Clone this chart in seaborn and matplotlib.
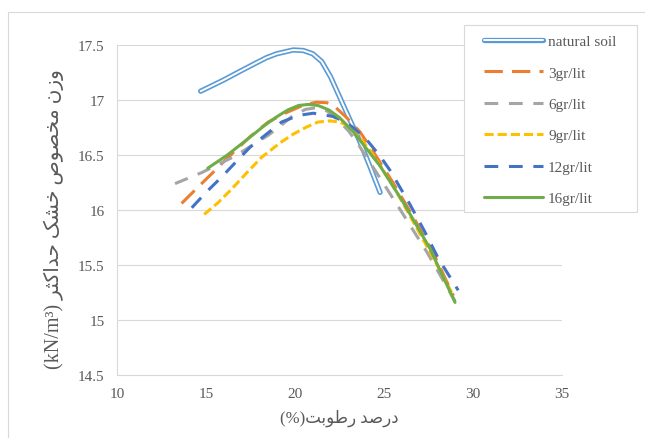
import matplotlib

matplotlib.use("Agg")
import matplotlib.patheffects as pe
import matplotlib.pyplot as plt
import seaborn as sns
from matplotlib.lines import Line2D
from matplotlib.patches import Rectangle

# values (moisture %, dry unit weight kN/m3)
natural_x = [14.7, 15.97, 16.9, 17.85, 18.4, 18.97, 19.5, 19.9, 20.47, 21.0, 21.5, 22.0, 22.5, 23.0, 23.65, 24.2, 24.78]
natural_y = [17.08, 17.18, 17.26, 17.34, 17.385, 17.42, 17.44, 17.455, 17.45, 17.42, 17.35, 17.21, 17.03, 16.85, 16.62, 16.40, 16.16]

gr3_x = [13.63, 14.5, 15.32, 16.25, 17.5, 18.5, 19.44, 20.5, 21.2, 21.8, 22.3, 22.9, 23.65, 24.4, 25.5, 26.6, 27.8, 28.9]
gr3_y = [16.06, 16.2, 16.33, 16.48, 16.67, 16.8, 16.88, 16.955, 16.98, 16.975, 16.93, 16.84, 16.71, 16.53, 16.25, 15.95, 15.6, 15.22]

gr6_x = [13.26, 14.76, 16.63, 18.5, 19.3, 19.9, 20.6, 21.2, 21.8, 22.4, 23.0, 23.46, 24.1, 24.78, 26.0, 27.4, 29.0]
gr6_y = [16.24, 16.34, 16.49, 16.68, 16.78, 16.86, 16.915, 16.93, 16.9, 16.82, 16.72, 16.62, 16.46, 16.29, 15.98, 15.62, 15.17]

gr9_x = [14.9, 15.7, 16.44, 17.3, 18.13, 19.16, 19.9, 20.66, 21.3, 21.97, 22.5, 22.9, 23.28, 23.7, 24.3, 24.96, 25.5, 26.0, 27.1, 28.15, 28.8]
gr9_y = [15.96, 16.07, 16.19, 16.34, 16.48, 16.61, 16.69, 16.755, 16.80, 16.81, 16.80, 16.77, 16.72, 16.65, 16.52, 16.36, 16.22, 16.08, 15.76, 15.45, 15.25]

gr12_x = [14.2, 15.0, 15.88, 16.7, 17.47, 18.4, 19.25, 20.2, 21.03, 22.15, 22.7, 23.18, 23.7, 24.12, 24.78, 25.34, 26.46, 27.3, 28.05, 29.17]
gr12_y = [16.02, 16.16, 16.30, 16.44, 16.57, 16.69, 16.80, 16.86, 16.88, 16.85, 16.81, 16.76, 16.69, 16.62, 16.49, 16.36, 16.05, 15.80, 15.56, 15.27]

gr16_x = [15.1, 16.2, 17.38, 18.3, 19.0, 19.6, 20.2, 20.75, 21.3, 21.9, 22.5, 23.28, 24.78, 26.08, 27.58, 28.99]
gr16_y = [16.38, 16.5, 16.65, 16.77, 16.85, 16.91, 16.95, 16.96, 16.95, 16.91, 16.84, 16.71, 16.40, 16.07, 15.65, 15.16]

x_ticks = [10, 15, 20, 25, 30, 35]
y_ticks = [14.5, 15, 15.5, 16, 16.5, 17, 17.5]
y_tick_labels = ["14.5", "15", "15.5", "16", "16.5", "17", "17.5"]

series_labels = ["natural soil", "3gr/lit", "6gr/lit", "9gr/lit", "12gr/lit", "16gr/lit"]
x_label_fa = "درصد رطوبت"
y_label_fa = "وزن مخصوص خشک حداکثر"

TEXT = "#595959"
GRID = "#d9d9d9"
LW = 2.2

# matplotlib has no arabic shaping, so pick presentation forms by hand
# (isolated, final, initial, medial); None = letter never joins to the next one
FORMS = {
    "ا": ("\ufe8d", "\ufe8e", None, None),
    "ب": ("\ufe8f", "\ufe90", "\ufe91", "\ufe92"),
    "ت": ("\ufe95", "\ufe96", "\ufe97", "\ufe98"),
    "ث": ("\ufe99", "\ufe9a", "\ufe9b", "\ufe9c"),
    "ح": ("\ufea1", "\ufea2", "\ufea3", "\ufea4"),
    "خ": ("\ufea5", "\ufea6", "\ufea7", "\ufea8"),
    "د": ("\ufea9", "\ufeaa", None, None),
    "ر": ("\ufead", "\ufeae", None, None),
    "ز": ("\ufeaf", "\ufeb0", None, None),
    "ش": ("\ufeb5", "\ufeb6", "\ufeb7", "\ufeb8"),
    "ص": ("\ufeb9", "\ufeba", "\ufebb", "\ufebc"),
    "ط": ("\ufec1", "\ufec2", "\ufec3", "\ufec4"),
    "م": ("\ufee1", "\ufee2", "\ufee3", "\ufee4"),
    "ن": ("\ufee5", "\ufee6", "\ufee7", "\ufee8"),
    "و": ("\ufeed", "\ufeee", None, None),
    "ک": ("\ufb8e", "\ufb8f", "\ufb90", "\ufb91"),
}


def rtl(text: str) -> str:
    out = []
    for i, ch in enumerate(text):
        if ch not in FORMS:
            out.append(ch)
            continue
        prev = text[i - 1] if i > 0 else None
        nxt = text[i + 1] if i + 1 < len(text) else None
        iso, fin, ini, med = FORMS[ch]
        joins_prev = prev in FORMS and FORMS[prev][2] is not None
        joins_next = nxt in FORMS and ini is not None
        if joins_prev and joins_next:
            out.append(med)
        elif joins_prev:
            out.append(fin)
        elif joins_next:
            out.append(ini)
        else:
            out.append(iso)
    return "".join(out)[::-1]


sns.set_style("white")
plt.rcParams["font.family"] = ["Liberation Serif", "DejaVu Sans"]

fig, ax = plt.subplots(figsize=(6.45, 4.39), dpi=100)
fig.subplots_adjust(left=117 / 645, right=562 / 645, top=1 - 46 / 439, bottom=1 - 376 / 439)

# outer chart frame, cut off at the right and bottom like the screenshot
fig.patches.append(
    Rectangle((8 / 645, -0.2), 1.2, 0.2 + 1 - 13 / 439, transform=fig.transFigure,
              fill=False, edgecolor=GRID, linewidth=0.8)
)

# natural soil uses excel's "double" compound line: blue outline, white core
double_line = [pe.Stroke(linewidth=3.8, foreground="#5B9BD5"), pe.Normal()]
styles = [
    dict(color="white", linewidth=1.4, path_effects=double_line),
    dict(color="#ED7D31", linewidth=LW, linestyle=(0, (6.0, 3.0))),
    dict(color="#A5A5A5", linewidth=LW, linestyle=(0, (4.5, 3.5))),
    dict(color="#FFC000", linewidth=LW, linestyle=(0, (3.0, 1.3))),
    dict(color="#4472C4", linewidth=LW, linestyle=(0, (4.5, 3.5))),
    dict(color="#70AD47", linewidth=LW),
]
series = [
    (natural_x, natural_y),
    (gr3_x, gr3_y),
    (gr6_x, gr6_y),
    (gr9_x, gr9_y),
    (gr12_x, gr12_y),
    (gr16_x, gr16_y),
]
for (xs, ys), style in zip(series, styles):
    sns.lineplot(x=xs, y=ys, ax=ax, estimator=None, sort=False,
                 solid_joinstyle="round", dash_joinstyle="round", **style)

ax.set_xlim(10, 35)
ax.set_ylim(14.5, 17.5)
ax.set_xticks(x_ticks)
ax.set_yticks(y_ticks)
ax.set_yticklabels(y_tick_labels)
ax.tick_params(length=0, labelsize=11, labelcolor=TEXT)
ax.tick_params(axis="x", pad=9)
ax.tick_params(axis="y", pad=9)
ax.grid(axis="y", color=GRID, linewidth=0.8)
ax.grid(axis="x", visible=False)
for side in ("top", "right"):
    ax.spines[side].set_visible(False)
for side in ("left", "bottom"):
    ax.spines[side].set_color(GRID)
    ax.spines[side].set_linewidth(0.8)

ax.set_xlabel("(%)" + rtl(x_label_fa), fontsize=12, color=TEXT, labelpad=6)
ax.set_ylabel("(kN/m³) " + rtl(y_label_fa), fontsize=14.5, color=TEXT)
ax.yaxis.set_label_coords(-0.118, 0.475)

# legend: frame drawn separately so it sits exactly where the reference has it
fig.patches.append(
    Rectangle((464 / 645, 1 - 213 / 439), 173 / 645, 187 / 439, transform=fig.transFigure,
              facecolor="white", edgecolor=GRID, linewidth=0.8, zorder=5)
)
handles = [Line2D([], [], **style) for style in styles]
leg = fig.legend(
    handles, series_labels,
    loc="upper left", bbox_to_anchor=(484 / 645, 1 - 35.5 / 439),
    frameon=False, fontsize=11, labelcolor=TEXT,
    handlelength=3.86, handletextpad=0.33, labelspacing=1.16, borderpad=0, borderaxespad=0,
)
leg.set_zorder(6)

fig.savefig("out.png", dpi=100)
